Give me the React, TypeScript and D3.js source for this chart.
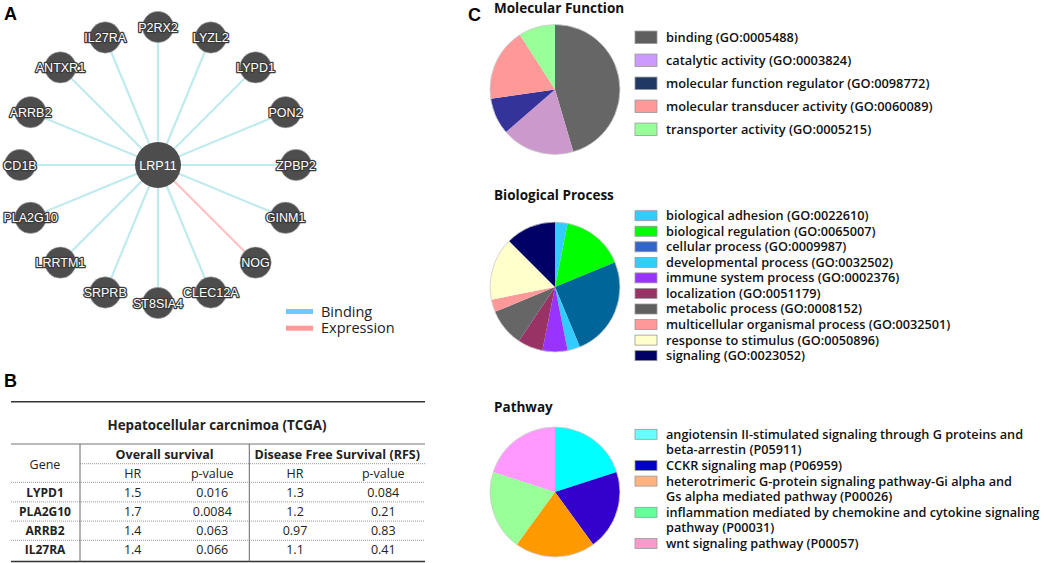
import * as d3 from "d3";
import React, { useRef, useEffect } from "react";

const width = 1045;
const height = 563;

// ---- panel A: interaction network ----
const hubGene = "LRP11";
const partnerGenes = [
	"P2RX2", "LYZL2", "LYPD1", "PON2", "ZPBP2", "GINM1", "NOG", "CLEC12A",
	"ST8SIA4", "SRPRB", "LRRTM1", "PLA2G10", "CD1B", "ARRB2", "ANTXR1", "IL27RA",
];
const partnerEdgeType = [
	"Binding", "Binding", "Binding", "Binding", "Binding", "Binding", "Expression", "Binding",
	"Binding", "Binding", "Binding", "Binding", "Binding", "Binding", "Binding", "Binding",
];
const edgeTypes = ["Binding", "Expression"];
const edgeColors = ["#c0ebee", "#ffc2c2"];
const edgeLegendColors = ["#66ccff", "#ff9999"];

// ---- panel B: survival table ----
const tableTitle = "Hepatocellular carcnimoa (TCGA)";
const tableGenes = ["LYPD1", "PLA2G10", "ARRB2", "IL27RA"];
const osHR = ["1.5", "1.7", "1.4", "1.4"];
const osP = ["0.016", "0.0084", "0.063", "0.066"];
const dfsHR = ["1.3", "1.2", "0.97", "1.1"];
const dfsP = ["0.084", "0.21", "0.83", "0.41"];

// ---- panel C: GO / pathway pies ----
const mfTerms = [
	"binding (GO:0005488)",
	"catalytic activity (GO:0003824)",
	"molecular function regulator (GO:0098772)",
	"molecular transducer activity (GO:0060089)",
	"transporter activity (GO:0005215)",
];
const mfCounts = [5, 2, 1, 2, 1];
const mfColors = ["#666666", "#cc99cc", "#333399", "#ff9999", "#99ff99"];
const mfLegendColors = ["#5f5f5f", "#cc99ff", "#1f3864", "#ff9999", "#99ff99"];

const bpTerms = [
	"biological adhesion (GO:0022610)",
	"biological regulation (GO:0065007)",
	"cellular process (GO:0009987)",
	"developmental process (GO:0032502)",
	"immune system process (GO:0002376)",
	"localization (GO:0051179)",
	"metabolic process (GO:0008152)",
	"multicellular organismal process (GO:0032501)",
	"response to stimulus (GO:0050896)",
	"signaling (GO:0023052)",
];
const bpCounts = [1, 5, 8, 1, 2, 2, 3, 1, 5, 4];
const bpColors = ["#33ccff", "#00ff00", "#006699", "#33ccff", "#9933ff", "#993366", "#666666", "#ff9999", "#ffffcc", "#000066"];
const bpLegendColors = ["#33ccff", "#00ff00", "#3366cc", "#33ccff", "#9933ff", "#993366", "#5f5f5f", "#ff9999", "#ffffcc", "#000066"];

const pwTerms = [
	["angiotensin II-stimulated signaling through G proteins and", "beta-arrestin (P05911)"],
	["CCKR signaling map (P06959)"],
	["heterotrimeric G-protein signaling pathway-Gi alpha and", "Gs alpha mediated pathway (P00026)"],
	["inflammation mediated by chemokine and cytokine signaling", "pathway (P00031)"],
	["wnt signaling pathway (P00057)"],
];
const pwCounts = [1, 1, 1, 1, 1];
const pwColors = ["#00ffff", "#3300cc", "#ff9900", "#99ff99", "#ff99ff"];
const pwLegendColors = ["#66ffff", "#0000cc", "#ffb380", "#66ff99", "#ff99cc"];

const sans = "'Open Sans', sans-serif";
const arial = "'Liberation Sans', Arial, sans-serif";

const App = () => {
	const d3Container = useRef(null);

	useEffect(() => {
		if (d3Container.current) {
			const svg = d3.select(d3Container.current);
			svg.selectAll("*").remove();
			drawNetwork(svg);
			drawTable(svg);
			drawPies(svg);
		}
	}, []);

	const panelLabel = (svg: any, label: string, x: number, y: number) => {
		svg.append("text")
			.attr("x", x)
			.attr("y", y)
			.attr("font-family", arial)
			.attr("font-weight", "bold")
			.attr("font-size", 18)
			.text(label);
	};

	const drawNetwork = (svg: any) => {
		panelLabel(svg, "A", 4, 20);
		const cx = 158;
		const cy = 165;
		const ring = 138;
		const g = svg.append("g").attr("transform", `translate(${cx},${cy})`);

		const angle = d3.scaleLinear().domain([0, partnerGenes.length]).range([0, 2 * Math.PI]);
		const edgeColor = d3.scaleOrdinal<string, string>().domain(edgeTypes).range(edgeColors);
		const nodes = partnerGenes.map((name, i) => ({
			name,
			type: partnerEdgeType[i],
			x: ring * Math.sin(angle(i)),
			y: -ring * Math.cos(angle(i)),
		}));

		g.selectAll(".edge")
			.data(nodes)
			.enter()
			.append("line")
			.attr("x1", 0)
			.attr("y1", 0)
			.attr("x2", (d: any) => d.x)
			.attr("y2", (d: any) => d.y)
			.attr("stroke", (d: any) => edgeColor(d.type))
			.attr("stroke-width", 2.2);

		const node = g.selectAll(".node")
			.data(nodes)
			.enter()
			.append("g")
			.attr("transform", (d: any) => `translate(${d.x},${d.y})`);
		node.append("circle")
			.attr("r", 15.7)
			.attr("fill", "#4d4d4d")
			.attr("stroke", "#bbbbbb")
			.attr("stroke-width", 0.6);
		node.append("text")
			.attr("text-anchor", "middle")
			.attr("dy", "0.36em")
			.attr("font-family", arial)
			.attr("font-size", 12.5)
			.attr("fill", "white")
			.attr("stroke", "#3a3a3a")
			.attr("stroke-width", 2.6)
			.attr("paint-order", "stroke")
			.attr("stroke-linejoin", "round")
			.text((d: any) => d.name);

		g.append("circle").attr("r", 23).attr("fill", "#4d4d4d");
		g.append("text")
			.attr("text-anchor", "middle")
			.attr("dy", "0.36em")
			.attr("font-family", arial)
			.attr("font-size", 12.5)
			.attr("fill", "white")
			.text(hubGene);

		// legend
		const legend = svg.append("g").attr("transform", "translate(286,311.5)");
		const row = legend.selectAll(".lg")
			.data(edgeTypes)
			.enter()
			.append("g")
			.attr("transform", (_: any, i: number) => `translate(0,${i * 16.7})`);
		row.append("line")
			.attr("x1", 0)
			.attr("x2", 27)
			.attr("stroke", (_: any, i: number) => edgeLegendColors[i])
			.attr("stroke-width", 5);
		row.append("text")
			.attr("x", 35)
			.attr("dy", "0.35em")
			.attr("font-family", sans)
			.attr("font-size", 14.5)
			.attr("fill", "#222")
			.text((d: string) => d);
	};

	const drawTable = (svg: any) => {
		panelLabel(svg, "B", 4, 387);
		const x0 = 11;
		const x1 = 425;
		const colGene = 45;
		const colX = [132.7, 212.3, 295, 383.3];
		const vLines = [80, 249.3];
		const g = svg.append("g").attr("font-family", sans).attr("fill", "#222");

		const hline = (y: number, xa: number, xb: number, w: number, dash: string | null, color: string) =>
			g.append("line")
				.attr("x1", xa).attr("x2", xb).attr("y1", y).attr("y2", y)
				.attr("stroke", color).attr("stroke-width", w)
				.attr("stroke-dasharray", dash);

		hline(401.7, x0, x1, 1.6, null, "#333");
		hline(444, x0, x1, 1.2, null, "#777");
		hline(463.7, vLines[0], x1, 1, "1,1", "#999");
		hline(482.3, x0, x1, 1, "1,1", "#999");
		const rowY = d3.scaleLinear().domain([0, 1]).range([496.7, 515.9]);
		tableGenes.slice(0, -1).forEach((_, i) => hline(rowY(i) + 5.2, x0, x1, 1, "1,1", "#999"));
		hline(561.5, x0, x1, 1.6, null, "#333");
		vLines.forEach((x) =>
			g.append("line").attr("x1", x).attr("x2", x).attr("y1", 444).attr("y2", 561.5)
				.attr("stroke", "#666").attr("stroke-width", 1));

		const text = (x: number, y: number, s: string, bold: boolean, size = 12.5) =>
			g.append("text")
				.attr("x", x).attr("y", y)
				.attr("text-anchor", "middle")
				.attr("font-size", size)
				.attr("font-weight", bold ? "bold" : "normal")
				.text(s);

		text(217, 430, tableTitle, true, 13.3);
		text((vLines[0] + vLines[1]) / 2, 459, "Overall survival", true);
		text((vLines[1] + x1) / 2, 459, "Disease Free Survival (RFS)", true);
		text(colGene, 469, "Gene", false);
		["HR", "p-value", "HR", "p-value"].forEach((s, i) => text(colX[i], 478, s, false));

		const cols = [osHR, osP, dfsHR, dfsP];
		tableGenes.forEach((gene, i) => {
			text(colGene, rowY(i), gene, true, 12);
			cols.forEach((col, j) => text(colX[j], rowY(i), col[i], false));
		});
	};

	const drawPies = (svg: any) => {
		panelLabel(svg, "C", 468, 21);
		const cx = 555;
		const r = 65;
		const pie = d3.pie<number>().sort(null).value((d) => d);
		const arc = d3.arc<any>().innerRadius(0).outerRadius(r);

		const pieGroup = (cy: number, counts: number[], colors: string[], title: string, titleY: number) => {
			svg.append("text")
				.attr("x", 494)
				.attr("y", titleY)
				.attr("font-family", sans)
				.attr("font-weight", "bold")
				.attr("font-size", 13.5)
				.attr("fill", "#111")
				.text(title);
			const g = svg.append("g").attr("transform", `translate(${cx},${cy})`);
			g.selectAll("path")
				.data(pie(counts))
				.enter()
				.append("path")
				.attr("d", arc)
				.attr("fill", (_: any, i: number) => colors[i]);
			g.append("circle").attr("r", r).attr("fill", "none").attr("stroke", "#cccccc").attr("stroke-width", 0.8);
		};

		pieGroup(89.5, mfCounts, mfColors, "Molecular Function", 13);
		pieGroup(287, bpCounts, bpColors, "Biological Process", 200);
		pieGroup(492, pwCounts, pwColors, "Pathway", 411.5);

		const legend = (rows: string[][], colors: string[], y0: number, step: number, swH: number, size: number) => {
			const g = svg.append("g").attr("font-family", sans).attr("font-size", size).attr("font-weight", 600).attr("fill", "#111");
			let line = 0;
			rows.forEach((lines, i) => {
				const y = y0 + line * step;
				g.append("rect")
					.attr("x", 635)
					.attr("y", y - swH / 2)
					.attr("width", 22)
					.attr("height", swH)
					.attr("fill", colors[i])
					.attr("stroke", "#999")
					.attr("stroke-width", 0.8);
				lines.forEach((s, k) =>
					g.append("text")
						.attr("x", 666)
						.attr("y", y + k * step)
						.attr("dy", "0.35em")
						.text(s));
				line += lines.length;
			});
		};

		legend(mfTerms.map((t) => [t]), mfLegendColors, 37.3, 23, 12.5, 12.8);
		legend(bpTerms.map((t) => [t]), bpLegendColors, 215.7, 15.55, 10, 12.7);
		legend(pwTerms, pwLegendColors, 434.3, 15.6, 10, 12.7);
	};

	return (
		<svg
			width={width}
			height={height}
			style={{ position: "absolute", left: 0, top: 0, backgroundColor: "white" }}
			ref={d3Container}
		/>
	);
};

export default App;
